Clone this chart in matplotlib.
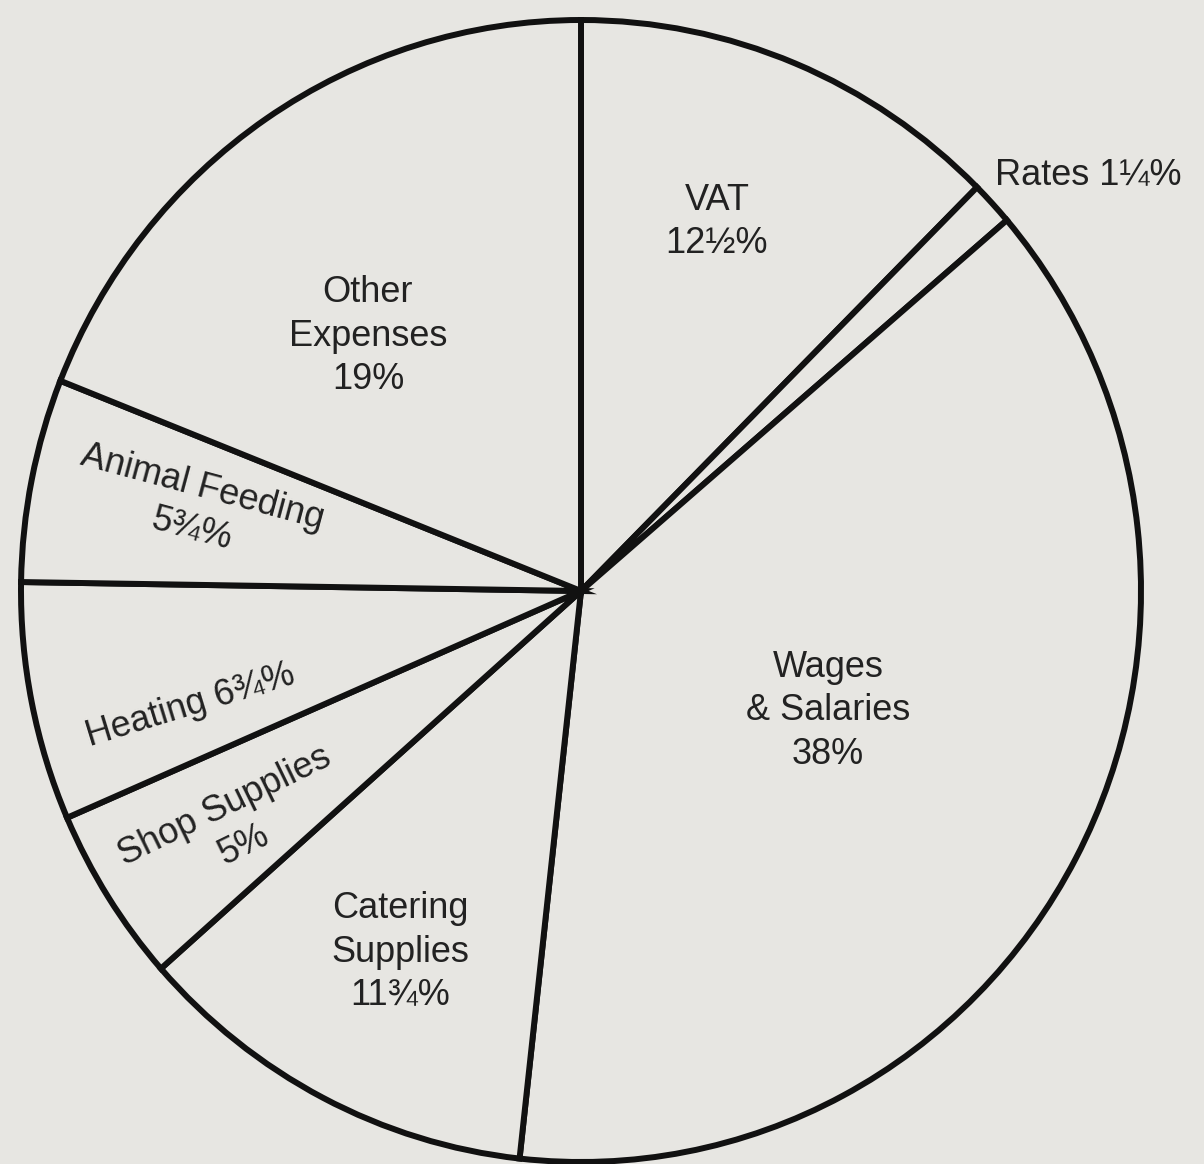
import matplotlib.pyplot as plt
import numpy as np

plt.rcParams['font.family'] = ['Liberation Sans', 'DejaVu Sans']

# shares of expenses, clockwise from the top
labels = ["VAT\n12½%", "Rates 1¼%", "Wages\n& Salaries\n38%", "Catering\nSupplies\n11¾%",
          "Shop Supplies\n5%", "Heating 6¾%", "Animal Feeding\n5¾%", "Other\nExpenses\n19%"]
values = [12.5, 1.25, 38, 11.75, 5, 6.75, 5.75, 19]

# label placement (pixels, y from top) and rotation
label_pos = [(717, 222), (995, 175), (828, 711), (400, 952),
             (234, 826), (190, 706), (197, 508), (368, 336)]
label_rot = [0, 0, 0, 0, 26, 17, -15, 0]
label_ha = ['center', 'left', 'center', 'center', 'center', 'center', 'center', 'center']

bg = '#e7e6e2'
W, H = 1204, 1164
cx, cy = 581, 591
rx, ry = 560, 571
k = rx / ry  # squash y so the circle comes out slightly taller than wide


def py(y):
    return (H - y) * k


fig = plt.figure(figsize=(W / 100, H / 100), dpi=100)
fig.patch.set_facecolor(bg)
ax = fig.add_axes([0, 0, 1, 1])
ax.set_facecolor(bg)

ax.pie(values, startangle=90, counterclock=False, center=(cx, py(cy)), radius=rx,
       colors=[bg] * len(values),
       wedgeprops=dict(edgecolor='#111111', linewidth=4.3))

for lab, (x, y), rot, ha in zip(labels, label_pos, label_rot, label_ha):
    ax.text(x, py(y), lab, ha=ha, va='center', rotation=rot, rotation_mode='anchor',
            fontsize=26, color='#222222', linespacing=1.3, multialignment='center')

ax.set_xlim(0, W)
ax.set_ylim(0, H * k)
ax.set_aspect('auto')
ax.axis('off')

fig.savefig('out.png', dpi=100, facecolor=bg)
